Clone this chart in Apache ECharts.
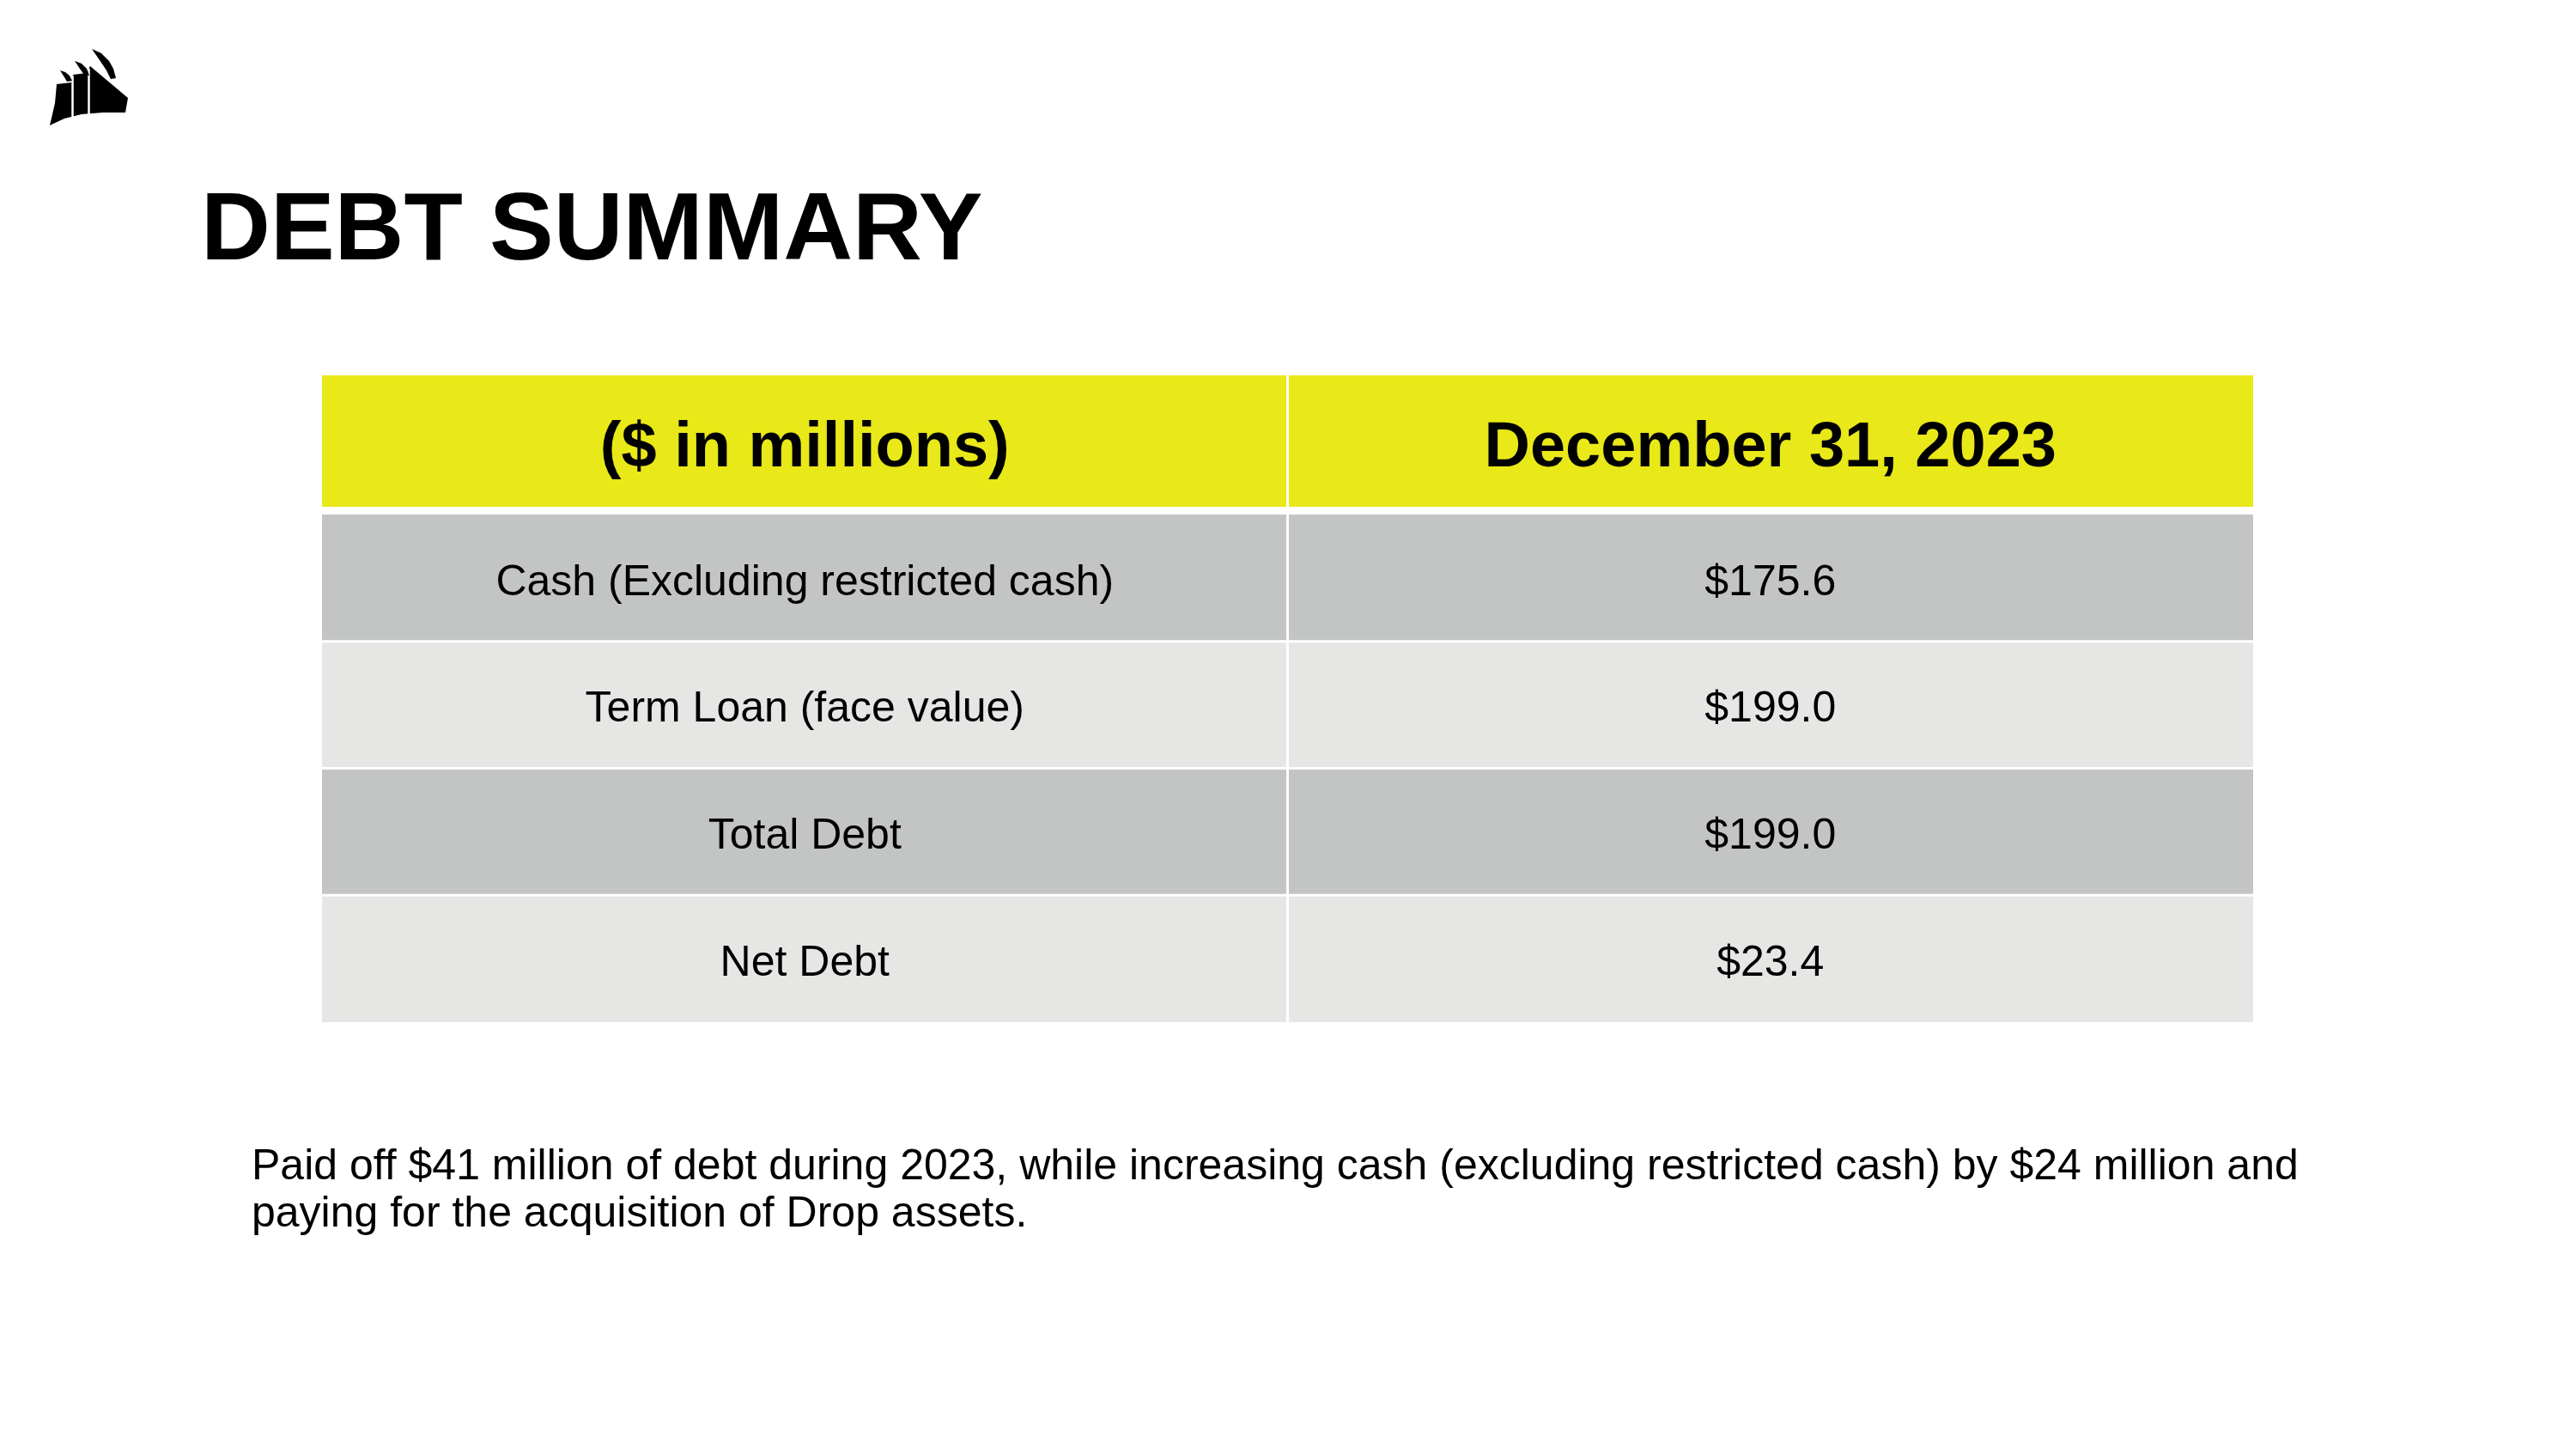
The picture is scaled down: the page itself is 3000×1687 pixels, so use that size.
<!DOCTYPE html>
<html>
<head>
<meta charset="utf-8">
<title>Debt Summary</title>
<script src="https://cdn.jsdelivr.net/npm/echarts/dist/echarts.min.js"></script>
<style>
    html, body { margin: 0; padding: 0; background: #ffffff; }
    #main { width: 3000px; height: 1687px; }
</style>
</head>
<body>
<div id="main"></div>
<script>
// table content
var columns = ['label', 'value'];
var headerLabels = ['($ in millions)', 'December 31, 2023'];
var rowLabels = ['Cash (Excluding restricted cash)', 'Term Loan (face value)', 'Total Debt', 'Net Debt'];
var rowValues = [175.6, 199.0, 199.0, 23.4];
var titleText = 'DEBT SUMMARY';
var noteLines = [
    'Paid off $41 million of debt during 2023, while increasing cash (excluding restricted cash) by $24 million and',
    'paying for the acquisition of Drop assets.'
];

var FONT = '"Liberation Sans", Arial, Helvetica, sans-serif';
var YELLOW = '#e9e818';
var DARK = '#c3c5c4';
var LIGHT = '#e6e6e5';

window.onload = function () {
    initTable();
};

// one cell = rect + centered text, half of the 3px white gap on inner sides
function cellShape(api, col, row, rowCount, fill, text, font, dy) {
    var c = api.coord([col, row]);
    var size = api.size([1, 1]);
    var w = size[0], h = size[1];
    var x0 = c[0] - w / 2, y0 = c[1] - h / 2;
    var gl = col === 0 ? 0 : 1.5;
    var gr = col === columns.length - 1 ? 0 : 1.5;
    var gt = row === 0 ? 0 : 1.5;
    var gb = row === rowCount - 1 ? 0 : 1.5;
    return {
        type: 'group',
        children: [{
            type: 'rect',
            shape: { x: x0 + gl, y: y0 + gt, width: w - gl - gr, height: h - gt - gb },
            style: { fill: fill }
        }, {
            type: 'text',
            style: {
                text: text,
                x: c[0],
                y: c[1] + dy,
                align: 'center',
                verticalAlign: 'middle',
                font: font,
                fill: '#000000'
            }
        }]
    };
}

//corsair sails logo, top left
function logoShapes() {
    var black = { fill: '#000' };
    return {
        type: 'group',
        children: [
            { type: 'polygon', shape: { points: [[58,146],[75,138],[95,133],[120,131],[146,131],[149,114],[105,77],[101,85],[85,87],[83,96],[66,98],[64,120]] }, style: black },
            { type: 'line', shape: { x1: 84.5, y1: 88, x2: 84.5, y2: 136 }, style: { stroke: '#fff', lineWidth: 2.5 } },
            { type: 'line', shape: { x1: 103.5, y1: 80, x2: 103.5, y2: 133 }, style: { stroke: '#fff', lineWidth: 2.5 } },
            { type: 'polygon', shape: { points: [[70,82],[76,84],[81,88],[84,94],[78,95],[75,90]] }, style: black },
            { type: 'polygon', shape: { points: [[87,71],[95,74],[101,80],[104,88],[98,87],[93,80]] }, style: black },
            { type: 'polygon', shape: { points: [[107,57],[118,62],[127,71],[132,80],[135,91],[129,92],[124,82],[116,70]] }, style: black }
        ]
    };
}

function initTable() {
    var chart = echarts.init(document.getElementById('main'));

    var headerData = [];
    for (var i = 0; i < headerLabels.length; i++) {
        headerData.push([i, 0]);
    }
    var bodyData = [];
    for (var r = 0; r < rowLabels.length; r++) {
        bodyData.push([0, r]);
        bodyData.push([1, r]);
    }
    var rowCats = [];
    for (var k = 0; k < rowLabels.length; k++) rowCats.push('r' + k);

    var option = {
        backgroundColor: '#ffffff',
        animation: false,
        grid: [
            { left: 375, right: 376, top: 437, height: 153 },
            { left: 375, right: 376, top: 599, bottom: 497 }
        ],
        xAxis: [
            { type: 'category', data: columns, gridIndex: 0, show: false },
            { type: 'category', data: columns, gridIndex: 1, show: false }
        ],
        yAxis: [
            { type: 'category', data: ['header'], gridIndex: 0, show: false, inverse: true },
            { type: 'category', data: rowCats, gridIndex: 1, show: false, inverse: true }
        ],
        graphic: [
            logoShapes(),
            {
                type: 'text',
                left: 234,
                top: 215,
                style: { text: titleText, font: 'bold 112px ' + FONT, fill: '#000' }
            },
            {
                type: 'text',
                left: 293,
                top: 1332,
                style: { text: noteLines.join('\n'), font: '50px ' + FONT, lineHeight: 55, fill: '#000' }
            }
        ],
        series: [{
            type: 'custom',
            xAxisIndex: 0,
            yAxisIndex: 0,
            data: headerData,
            renderItem: function (params, api) {
                var col = api.value(0);
                return cellShape(api, col, 0, 1, YELLOW, headerLabels[col], 'bold 74px ' + FONT, 9);
            }
        }, {
            type: 'custom',
            xAxisIndex: 1,
            yAxisIndex: 1,
            data: bodyData,
            renderItem: function (params, api) {
                var col = api.value(0), row = api.value(1);
                var txt = col === 0 ? rowLabels[row] : '$' + rowValues[row].toFixed(1);
                var fill = row % 2 === 0 ? DARK : LIGHT;
                return cellShape(api, col, row, rowLabels.length, fill, txt, '50px ' + FONT, 6);
            }
        }]
    };
    chart.setOption(option);
}
</script>
</body>
</html>
